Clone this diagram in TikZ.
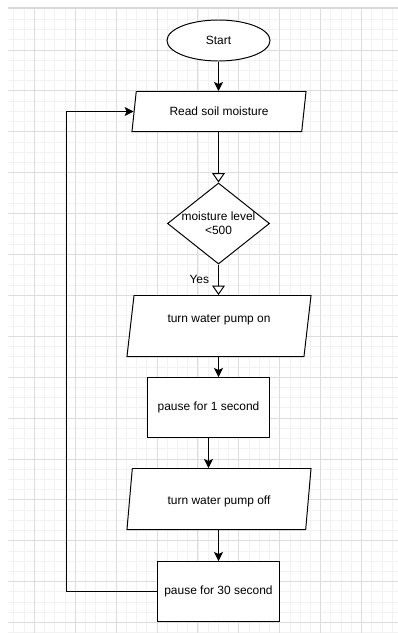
\documentclass[tikz,border=0pt]{standalone}
\usepackage{fontspec}
\setmainfont{Liberation Sans}
\usetikzlibrary{shapes.geometric,arrows.meta,positioning}

\definecolor{gridmajor}{HTML}{DDDDDD}
\definecolor{gridminor}{HTML}{F2F2F2}

\tikzset{
	base/.style={draw=black, line width=0.7pt, fill=white, inner sep=0pt,
		font=\fontsize{8.5}{9.9}\selectfont, align=center},
	startstop/.style={base, ellipse, minimum width=2.575cm, minimum height=1.025cm},
	io/.style={base, trapezium, trapezium stretches body, minimum height=#1},
	decision/.style={base, diamond, minimum width=2.55cm, minimum height=2.025cm},
	process/.style={base, rectangle, minimum width=3.05cm, minimum height=1.5cm},
	flow/.style={line width=0.7pt, -{Stealth[length=6.4pt, width=6.4pt, inset=1.4pt]}},
	flowopen/.style={line width=0.7pt, -{Triangle[open, length=6.6pt, width=9pt, fill=white]}}
}

\begin{document}
\begin{tikzpicture}[x=0.025cm, y=-0.025cm]
	\useasboundingbox (0,0) rectangle (398,633);
	\fill[white] (0,0) rectangle (398,633);

	% grid paper
	\begin{scope}
		\clip (8,9) rectangle (398,633);
		\foreach \i in {0,...,37}
			\draw[gridminor, line width=0.6pt] ({13.9+10.225*\i},9) -- ++(0,624);
		\foreach \i in {0,...,60}
			\draw[gridminor, line width=0.6pt] (8,{19.3+10.225*\i}) -- ++(390,0);
		\foreach \i in {0,...,8}
			\draw[gridmajor, line width=0.6pt] ({34.3+40.9*\i},9) -- ++(0,624);
		\foreach \i in {0,...,14}
			\draw[gridmajor, line width=0.6pt] (8,{50+40.9*\i}) -- ++(390,0);
	\end{scope}
	\draw[gray!30, line width=1.5pt] (8,7.8) -- (398,7.8);

	% flowchart
	\node[startstop] (start) at (218.5,40.5) {Start};
	\node[io=1.0cm, trapezium left angle=64, trapezium right angle=116,
		minimum width=4.35cm] (read) at (219,111.5) {Read soil moisture};
	\node[decision, label={[base, draw=none, fill=none]center:moisture level\\<500}]
		(cond) at (218.5,223.5) {};
	\node[io=1.525cm, trapezium left angle=72, trapezium right angle=108,
		minimum width=4.6cm] (pumpon) at (219,326) {turn water pump on\\\mbox{}};
	\node[process] (wait1) at (208.5,407.5) {pause for 1 second};
	\node[io=1.525cm, trapezium left angle=72, trapezium right angle=108,
		minimum width=4.6cm] (pumpoff) at (219,499) {\mbox{}\\turn water pump off};
	\node[process] (wait30) at (218.5,591.5) {pause for 30 second};

	\draw[flow] (start) -- (start |- read.north);
	\draw[flowopen] (start |- read.south) -- (cond);
	\draw[flowopen] (cond) -- node[left, xshift=-3pt, font=\fontsize{8.5}{9.9}\selectfont]{Yes} (cond |- pumpon.north);
	\draw[flow] (cond |- pumpon.south) -- (cond |- wait1.north);
	\draw[flow] (wait1.south) -- (wait1.south |- pumpoff.north);
	\draw[flow] (wait30 |- pumpoff.south) -- (wait30);
	\draw[flow] (wait30.west) -- ++(-91,0) |- (read);
\end{tikzpicture}
\end{document}
